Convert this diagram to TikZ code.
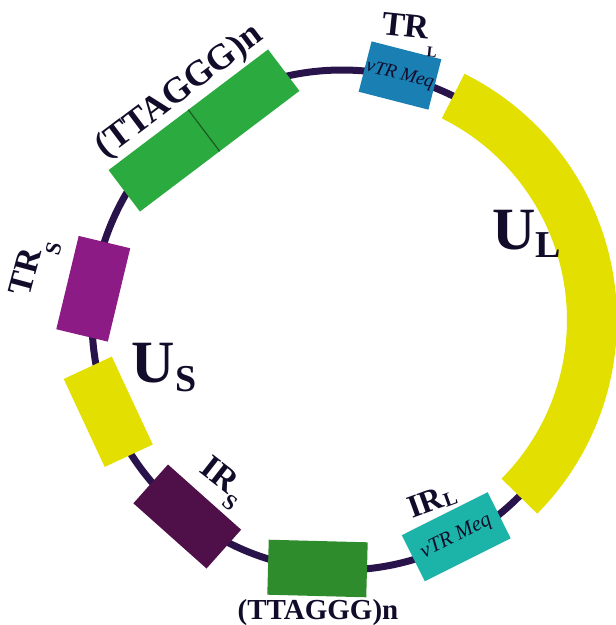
\documentclass[tikz,border=0pt]{standalone}
\usepackage{fontspec}
\setmainfont{Liberation Serif}
\usetikzlibrary{calc}
\definecolor{ringcol}{HTML}{28144A}
\definecolor{txtcol}{HTML}{120C2A}
\definecolor{ylw}{HTML}{E3DF00}
\definecolor{trlblue}{HTML}{1A7FB3}
\definecolor{tgreen}{HTML}{2BAA40}
\definecolor{tgline}{HTML}{1C5A22}
\definecolor{trspurple}{HTML}{8C1B86}
\definecolor{irspurple}{HTML}{4F1049}
\definecolor{bgreen}{HTML}{2F8C2C}
\definecolor{irlteal}{HTML}{1CB4A8}
\begin{document}
\begin{tikzpicture}[x=1pt,y=1pt,
  seg/.style={draw=none, inner sep=0pt, outer sep=0pt},
  lbl/.style={text=txtcol, inner sep=0pt, font=\bfseries},
  meq/.style={text=txtcol, font=\itshape\fontsize{19}{19}\selectfont}]
\useasboundingbox (0,0) rectangle (616,-625);
\coordinate (C) at (342,-320);
% ring
\draw[ringcol, line width=7pt] (C) circle (250);
% U_L arc
\draw[ylw, line width=50pt] ($(C)+(63.6:250)$) arc (63.6:-44.8:250);
% segments
\node[seg, fill=trlblue, minimum width=72, minimum height=52, rotate=-14.4, meq] (trl) at (400,-75.5) {vTR Meq};
\node[seg, fill=tgreen, minimum width=200, minimum height=52, rotate=37.1] (tg) at (204,-130.5) {};
\draw[tgline, line width=1.2pt] (tg.north) -- (tg.south);
\node[seg, fill=trspurple, minimum width=96, minimum height=53, rotate=76.5] (trs) at (93.25,-288.75) {};
\node[seg, fill=ylw, minimum width=97, minimum height=53, rotate=-65] (us) at (108.25,-411.75) {};
\node[seg, fill=irspurple, minimum width=98, minimum height=52, rotate=-41.7] (irs) at (187.25,-516.5) {};
\node[seg, fill=bgreen, minimum width=99, minimum height=55, rotate=-1.5] (bg) at (317.5,-568.5) {};
\node[seg, fill=irlteal, minimum width=96, minimum height=51.5, rotate=26.6, meq, font=\itshape\fontsize{21}{21}\selectfont] (irl) at (456.25,-536.75) {vTR Meq};
% labels
\node[lbl, rotate=-6] (ltrl) at (410,-35) {\fontsize{34}{34}\selectfont TR\raisebox{-18pt}{\fontsize{15}{15}\selectfont L}};
\node[lbl, rotate=75] (ltrs) at (35,-268) {\fontsize{34}{34}\selectfont TR\raisebox{-18pt}{\fontsize{22}{22}\selectfont S}};
\node[lbl] (lul) at (527,-234) {\fontsize{60}{60}\selectfont U\raisebox{-8pt}{\fontsize{38}{38}\selectfont L}};
\node[lbl] (lus) at (164,-367.5) {\fontsize{60}{60}\selectfont U\raisebox{-9pt}{\fontsize{38}{38}\selectfont S}};
\node[lbl, rotate=-38] (lirs) at (221,-483) {\fontsize{34}{34}\selectfont IR\raisebox{-12pt}{\fontsize{22}{22}\selectfont S}};
\node[lbl, rotate=20] (lirl) at (432,-501) {\fontsize{32}{32}\selectfont IR\raisebox{-2pt}{\fontsize{20}{20}\selectfont L}};
\node[lbl, rotate=37] (ltg) at (180,-92) {\fontsize{36}{36}\selectfont (TTAGGG)n};
\node[lbl] (lbg) at (318,-613) {\fontsize{29}{29}\selectfont (TTAGGG)n};
\end{tikzpicture}
\end{document}
